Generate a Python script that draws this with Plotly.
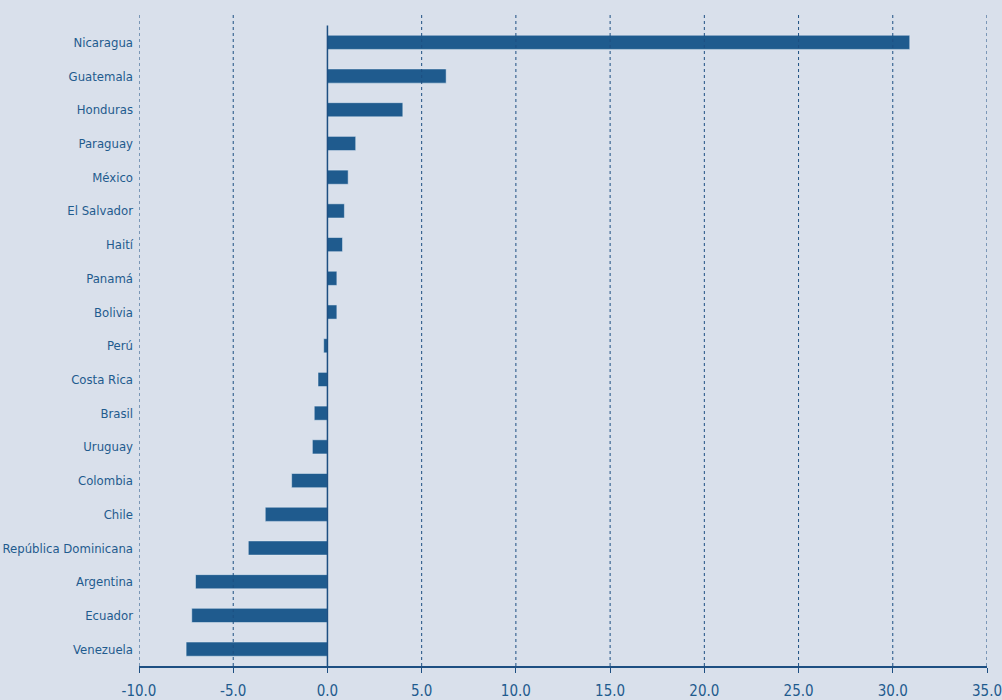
import plotly.graph_objects as go

countries = ["Nicaragua", "Guatemala", "Honduras", "Paraguay", "México", "El Salvador",
             "Haití", "Panamá", "Bolivia", "Perú", "Costa Rica", "Brasil", "Uruguay",
             "Colombia", "Chile", "República Dominicana", "Argentina", "Ecuador", "Venezuela"]
values = [30.9, 6.3, 4.0, 1.5, 1.1, 0.9, 0.8, 0.5, 0.5, -0.2, -0.5, -0.7, -0.8,
          -1.9, -3.3, -4.2, -7.0, -7.2, -7.5]
x_ticks = [-10, -5, 0, 5, 10, 15, 20, 25, 30, 35]

bg = "#d9e0eb"
bar_col = "#1f5b8e"
line_col = "#1d4f82"
font_name = "DejaVu Sans Condensed, Roboto, sans-serif"

fig = go.Figure()
fig.add_trace(go.Bar(
    y=countries, x=values, orientation="h",
    marker_color=bar_col, width=0.42,
))

# dotted vertical grid (zero is drawn solid below)
for t in x_ticks:
    if t == 0:
        continue
    fig.add_shape(type="line", xref="x", yref="paper", x0=t, x1=t, y0=0, y1=1,
                  line=dict(color=line_col, width=1, dash="dot"), layer="above")

fig.add_shape(type="line", xref="x", yref="y", x0=0, x1=0, y0=-0.5, y1=len(countries) - 0.5,
              line=dict(color=line_col, width=1.5), layer="above")

fig.update_layout(
    width=1002, height=700,
    margin=dict(l=139, r=15, t=12, b=34, autoexpand=False),
    paper_bgcolor=bg, plot_bgcolor=bg,
    showlegend=False,
    font=dict(family=font_name, color=bar_col),
)
fig.update_xaxes(
    range=[-10, 35], tickvals=x_ticks,
    ticktext=[f"{t:.1f}" for t in x_ticks],
    tickfont=dict(size=15, family=font_name, color=bar_col),
    showgrid=False, zeroline=False,
    showline=True, linecolor=line_col, linewidth=1.5,
    ticks="outside", ticklen=5, tickcolor=line_col, ticklabelstandoff=5,
    ticklabeloverflow="allow",
    layer="above traces", automargin=False,
)
fig.update_yaxes(
    categoryorder="array", categoryarray=countries,
    range=[len(countries) - 0.5, -0.9],
    tickfont=dict(size=13, family=font_name, color=bar_col),
    showgrid=False, zeroline=False, ticks="", ticklabelstandoff=5,
    automargin=False,
)

fig.write_html("out.html", config={"displayModeBar": False},
               post_script="document.body.style.margin='0';")
